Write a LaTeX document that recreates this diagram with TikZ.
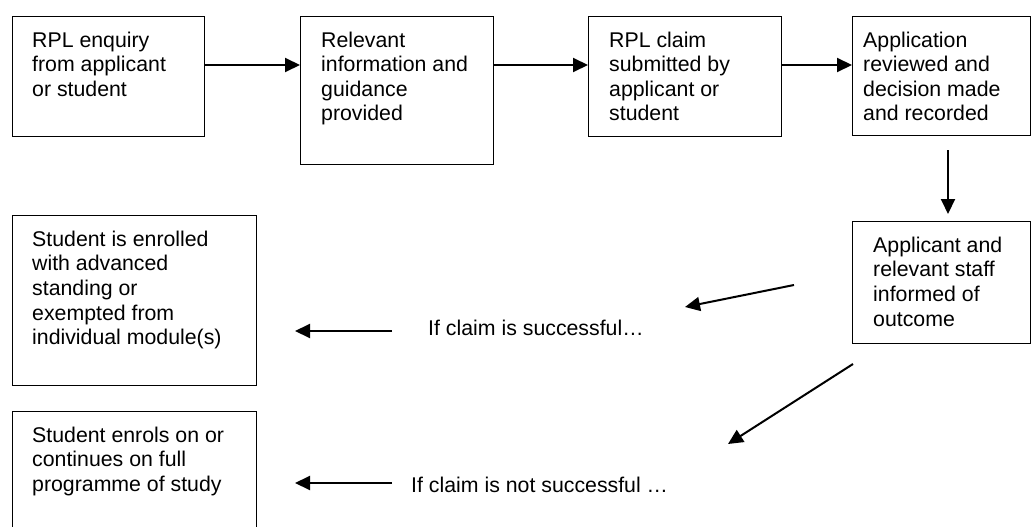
\documentclass[tikz,border=0pt]{standalone}
\usepackage{fontspec}
\setmainfont{Liberation Sans}
\usetikzlibrary{arrows.meta,calc}
\newcommand{\fstrut}{\rule{0pt}{18pt}}
\tikzset{
  box/.style={draw=black, line width=1.3pt, inner sep=0pt, anchor=north west, fill=none},
  txt/.style={inner sep=0pt, anchor=north west, align=left, font=\fontsize{21.3}{24.6}\selectfont},
  lbl/.style={inner sep=0pt, anchor=base west, font=\fontsize{21.3}{24.6}\selectfont},
  arr/.style={line width=2pt, -{Triangle[length=15pt,width=14pt]}}
}
\begin{document}
\begin{tikzpicture}[x=1pt,y=-1pt]
\useasboundingbox (0,0) rectangle (1031,527);
\clip (0,0) rectangle (1031,527);
% boxes
\node[box, minimum width=192pt, minimum height=120pt] (b1) at (12,16) {};
\node[box, minimum width=193pt, minimum height=148pt] (b2) at (300,16) {};
\node[box, minimum width=193pt, minimum height=120pt] (b3) at (588,16) {};
\node[box, minimum width=178pt, minimum height=119pt] (b4) at (852,16) {};
\node[box, minimum width=178pt, minimum height=122pt] (b5) at (852,221) {};
\node[box, minimum width=244pt, minimum height=170pt] (b6) at (12,215) {};
\node[box, minimum width=244pt, minimum height=130pt] (b7) at (12,411) {};
% texts
\node[txt] (t1) at (32,29) {\fstrut RPL enquiry\\from applicant\\or student};
\node[txt] (t2) at (321,29) {\fstrut Relevant\\information and\\guidance\\provided};
\node[txt] (t3) at (609,29) {\fstrut RPL claim\\submitted by\\applicant or\\student};
\node[txt] (t4) at (863,29) {\fstrut Application\\reviewed and\\decision made\\and recorded};
\node[txt] (t5) at (873,234) {\fstrut Applicant and\\relevant staff\\informed of\\outcome};
\node[txt] (t6) at (32,228) {\fstrut Student is enrolled\\with advanced\\standing or\\exempted from\\individual module(s)};
\node[txt] (t7) at (32,424) {\fstrut Student enrols on or\\continues on full\\programme of study};
\node[lbl] (l1) at (428,335) {If claim is successful…};
\node[lbl] (l2) at (411,492) {If claim is not successful …};
% free coordinates
\coordinate (v0) at (948,150);
\coordinate (v1) at (948,214);
\coordinate (d1s) at (794,285);
\coordinate (d1e) at (685,307);
\coordinate (d2s) at (853,364);
\coordinate (d2e) at (728,444);
\coordinate (h1s) at (392,331);
\coordinate (h1e) at (295,331);
\coordinate (h2s) at (392,483);
\coordinate (h2e) at (295,483);
% connectors
\draw[arr] (b1.east |- 0,65) -- (b2.west |- 0,65);
\draw[arr] (b2.east |- 0,65) -- (b3.west |- 0,65);
\draw[arr] (b3.east |- 0,65) -- (b4.west |- 0,65);
\draw[arr] (v0) -- (v1);
\draw[arr] (d1s) -- (d1e);
\draw[arr] (d2s) -- (d2e);
\draw[arr] (h1s) -- (h1e);
\draw[arr] (h2s) -- (h2e);
\end{tikzpicture}
\end{document}
